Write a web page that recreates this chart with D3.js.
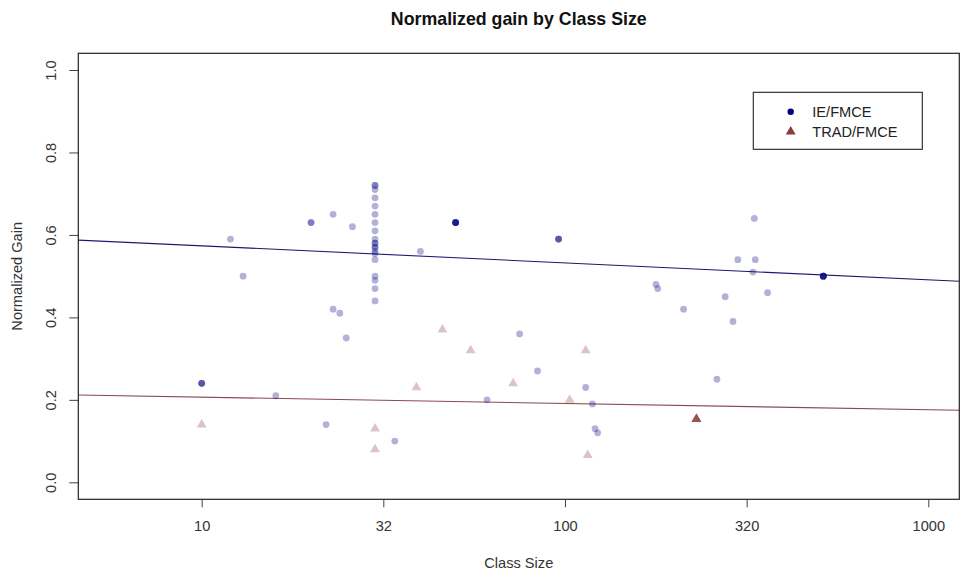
<!DOCTYPE html>
<html>
<head>
<meta charset="utf-8">
<script src="https://cdn.jsdelivr.net/npm/d3@7"></script>
<style>
html,body{margin:0;padding:0;background:#fff;}
svg{display:block;font-family:"Liberation Sans",Arial,sans-serif;}
</style>
</head>
<body>
<svg id="chart" width="964" height="576"></svg>
<script>
// ---- data ----
const ieSize = [10,10,10,12,13,16,20,20,23,26,23,24,25,22,34,
  30,30,30,30,30,30,30,30,30,30,30,30,30,30,30,30,30,30,30,30,
  40,50,50,50,50,50,50,61,75,84,96,96,96,114,119,121,123,
  178,180,212,262,276,290,299,329,332,334,361,514,514,514,514,514,514];
const ieGain = [0.24,0.24,0.24,0.59,0.50,0.21,0.63,0.63,0.65,0.62,0.42,0.41,0.35,0.14,0.10,
  0.72,0.72,0.71,0.69,0.67,0.65,0.63,0.61,0.59,0.58,0.58,0.57,0.57,0.56,0.555,0.54,0.50,0.49,0.47,0.44,
  0.56,0.63,0.63,0.63,0.63,0.63,0.63,0.20,0.36,0.27,0.59,0.59,0.59,0.23,0.19,0.13,0.12,
  0.48,0.47,0.42,0.25,0.45,0.39,0.54,0.51,0.64,0.54,0.46,0.50,0.50,0.50,0.50,0.50,0.50];
const tradSize = [10,30,30,39,46,55,72,103,114,115.5,230,230,230,230,230,230];
const tradGain = [0.14,0.13,0.08,0.23,0.37,0.32,0.24,0.20,0.32,0.066,0.153,0.153,0.153,0.153,0.153,0.153];
// fitted lines: [intercept, slope per log10(class size)]
const ieFit = [0.6147, -0.04124];
const tradFit = [0.2218, -0.01526];
const xTickValues = [10, 31.62, 100, 316.2, 1000];
const xTickLabels = ["10", "32", "100", "320", "1000"];
const yTickValues = [0, 0.2, 0.4, 0.6, 0.8, 1.0];
const xDomain = [4.575, 1217];
const yDomain = [-0.0412, 1.0405];
const seriesNames = ["IE/FMCE", "TRAD/FMCE"];

// ---- layout ----
const L = 78.3, R = 959.3, T = 53.3, B = 499.3;
const navy = "#000080", brown = "#8B3A3A";
const svg = d3.select("#chart");
const x = d3.scaleLog().domain(xDomain).range([L, R]);
const y = d3.scaleLinear().domain(yDomain).range([B, T]);

// title
svg.append("text").attr("x", (L + R) / 2).attr("y", 24.5)
  .attr("text-anchor", "middle").attr("font-weight", "bold")
  .attr("font-size", 17.8).attr("fill", "#111").text("Normalized gain by Class Size");

// axes
const xAxis = d3.axisBottom(x).tickValues(xTickValues)
  .tickFormat((d, i) => xTickLabels[i]).tickSizeOuter(0).tickSize(8).tickPadding(13);
const gx = svg.append("g").attr("transform", `translate(0,${B})`).call(xAxis);
gx.select(".domain").remove();
gx.selectAll("line").attr("stroke", "#444");
gx.selectAll("text").attr("font-size", 14.6).attr("fill", "#333").attr("font-family", "Liberation Sans, Arial, sans-serif");

const yAxis = d3.axisLeft(y).tickValues(yTickValues).tickFormat(d3.format(".1f")).tickSize(9).tickPadding(0);
const gy = svg.append("g").attr("transform", `translate(${L},0)`).call(yAxis);
gy.select(".domain").remove();
gy.selectAll("line").attr("stroke", "#444");
gy.selectAll("text").attr("font-size", 14.6).attr("fill", "#333")
  .attr("font-family", "Liberation Sans, Arial, sans-serif")
  .attr("text-anchor", "middle")
  .attr("x", 0).attr("y", 0)
  .attr("transform", "translate(-27,0) rotate(-90)").attr("dy", "0.35em");

// axis titles
svg.append("text").attr("x", (L + R) / 2).attr("y", 567.5).attr("text-anchor", "middle")
  .attr("font-size", 14.6).attr("fill", "#333").text("Class Size");
svg.append("text").attr("transform", `translate(22,${(T + B) / 2}) rotate(-90)`)
  .attr("text-anchor", "middle").attr("font-size", 14.6).attr("fill", "#333").text("Normalized Gain");

// clip
svg.append("clipPath").attr("id", "clip").append("rect")
  .attr("x", L).attr("y", T).attr("width", R - L).attr("height", B - T);
const plot = svg.append("g").attr("clip-path", "url(#clip)");

// fitted lines
const line = d3.line().x(d => x(d[0])).y(d => y(d[1]));
function fitPts(f) { return xDomain.map(v => [v, f[0] + f[1] * Math.log10(v)]); }
plot.append("path").datum(fitPts(ieFit)).attr("d", line).attr("fill", "none")
  .attr("stroke", "#1a1a6e").attr("stroke-width", 1.1);
plot.append("path").datum(fitPts(tradFit)).attr("d", line).attr("fill", "none")
  .attr("stroke", "#8a4a50").attr("stroke-width", 1.1);

// points
const ie = ieSize.map((s, i) => [s, ieGain[i]]);
const trad = tradSize.map((s, i) => [s, tradGain[i]]);
plot.selectAll("circle.ie").data(ie).enter().append("circle").attr("class", "ie")
  .attr("cx", d => x(d[0])).attr("cy", d => y(d[1])).attr("r", 3.4)
  .attr("fill", navy).attr("fill-opacity", 0.3);
const tri = d3.symbol().type(d3.symbolTriangle).size(42);
plot.selectAll("path.trad").data(trad).enter().append("path").attr("class", "trad")
  .attr("d", tri).attr("transform", d => `translate(${x(d[0])},${y(d[1])})`)
  .attr("fill", brown).attr("fill-opacity", 0.3);

// box
svg.append("rect").attr("x", L).attr("y", T).attr("width", R - L).attr("height", B - T)
  .attr("fill", "none").attr("stroke", "#222").attr("stroke-width", 1.2);

// legend
const lg = svg.append("g");
lg.append("rect").attr("x", 753.3).attr("y", 92.3).attr("width", 169).attr("height", 57)
  .attr("fill", "#fff").attr("stroke", "#222").attr("stroke-width", 1.1);
const items = [{ name: seriesNames[0], col: navy, sym: "c" }, { name: seriesNames[1], col: brown, sym: "t" }];
items.forEach((it, i) => {
  const cy = 111.7 + i * 20;
  if (it.sym === "c") lg.append("circle").attr("cx", 790.7).attr("cy", cy).attr("r", 3.2).attr("fill", it.col);
  else lg.append("path").attr("d", tri).attr("transform", `translate(790.7,${cy})`).attr("fill", it.col);
  lg.append("text").attr("x", 812.3).attr("y", cy).attr("dy", "0.35em")
    .attr("font-size", 14.6).attr("fill", "#222").text(it.name);
});
</script>
</body>
</html>
